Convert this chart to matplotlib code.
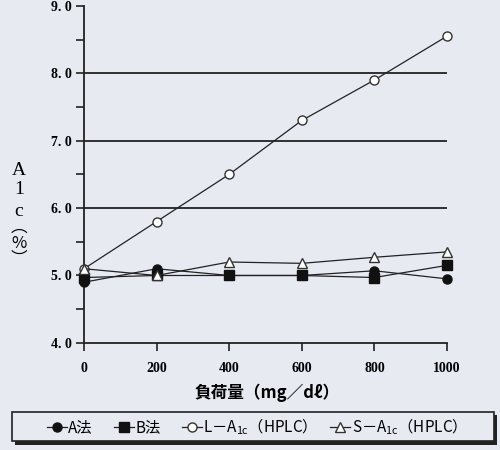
# 負荷量とA1c値のグラフ

import matplotlib.pyplot as plt
from matplotlib.ticker import FuncFormatter, MultipleLocator
from matplotlib.patches import Rectangle

# データ
carga = [0, 200, 400, 600, 800, 1000]
a_ho = [4.9, 5.1, 5.0, 5.0, 5.07, 4.95]
b_ho = [4.97, 5.0, 5.0, 5.0, 4.97, 5.15]
l_a1c = [5.1, 5.8, 6.5, 7.3, 7.9, 8.55]
s_a1c = [5.1, 5.0, 5.2, 5.18, 5.27, 5.35]

etiquetas = ["A法", "B法", "L－A$_{1c}$（HPLC）", "S－A$_{1c}$（HPLC）"]
xticks = [0, 200, 400, 600, 800, 1000]
yticks = [4.0, 5.0, 6.0, 7.0, 8.0, 9.0]

fondo = "#e8eaf2"
plt.rcParams['mathtext.fontset'] = 'custom'
plt.rcParams['mathtext.rm'] = 'Noto Sans CJK JP'
plt.rcParams['mathtext.it'] = 'Noto Sans CJK JP'

fig = plt.figure(figsize=(5, 4.5), dpi=100, facecolor=fondo)
ax = fig.add_axes([0.168, 0.238, 0.726, 0.749])
ax.set_facecolor(fondo)

for y in [6.0, 7.0, 8.0]:
    ax.axhline(y, color='#222222', lw=1.3, zorder=1)

kw = dict(color='#222222', lw=0.9, ms=6.5, zorder=3, clip_on=False)
h1, = ax.plot(carga, a_ho, marker='o', mfc='#111111', mec='#111111', **kw)
h2, = ax.plot(carga, b_ho, marker='s', mfc='#111111', mec='#111111', **kw)
h3, = ax.plot(carga, l_a1c, marker='o', mfc='white', mec='#333333', **kw)
h4, = ax.plot(carga, s_a1c, marker='^', mfc='white', mec='#333333', **kw)

ax.set_xlim(0, 1000)
ax.set_ylim(4.0, 9.0)
ax.set_xticks(xticks)
ax.set_yticks(yticks)
ax.yaxis.set_minor_locator(MultipleLocator(0.5))
ax.yaxis.set_major_formatter(FuncFormatter(lambda v, p: f"{v:.1f}".replace('.', '. ')))
for s in ['top', 'right']:
    ax.spines[s].set_visible(False)
for s in ['left', 'bottom']:
    ax.spines[s].set_linewidth(1.3)
    ax.spines[s].set_color('#222222')
ax.tick_params(axis='both', which='both', direction='out', length=6, width=1.2,
               color='#222222', labelsize=10, pad=3)
ax.tick_params(axis='x', pad=8)
for lab in ax.get_xticklabels() + ax.get_yticklabels():
    lab.set_fontfamily('Liberation Serif')
    lab.set_fontweight('bold')

# etiqueta Y vertical, un caracter por linea
ylabel_chars = ["A", "1", "c", "︵", "%", "︶"]
ylabel_pos = [0.622, 0.578, 0.530, 0.494, 0.46, 0.424]
for ch, yy in zip(ylabel_chars, ylabel_pos):
    fam = 'Liberation Serif' if ch in "A1c" else ['Noto Sans CJK JP', 'DejaVu Sans']
    fig.text(0.038, yy, ch, ha='center', va='center', fontsize=14 if ch in "A1c" else 12,
             family=fam)

fig.text(0.535, 0.127, "負荷量（mg／dℓ）", ha='center', va='center', fontsize=12,
         family=['Noto Sans CJK JP', 'DejaVu Sans'], fontweight='bold')

# caja de leyenda con sombra
fig.patches.append(Rectangle((0.030, 0.012), 0.964, 0.066, transform=fig.transFigure,
                             facecolor='#222222', edgecolor='none', zorder=0))
fig.patches.append(Rectangle((0.024, 0.020), 0.964, 0.064, transform=fig.transFigure,
                             facecolor=fondo, edgecolor='#222222', lw=1.2, zorder=1))
fig.legend([h1, h2, h3, h4], etiquetas, loc='center', bbox_to_anchor=(0.505, 0.052),
           ncol=4, frameon=False, handlelength=1.3, handletextpad=0.1,
           columnspacing=1.4, numpoints=1,
           prop={'family': ['Noto Sans CJK JP', 'DejaVu Sans'], 'size': 11})

fig.savefig("out.png", dpi=100, facecolor=fondo)
